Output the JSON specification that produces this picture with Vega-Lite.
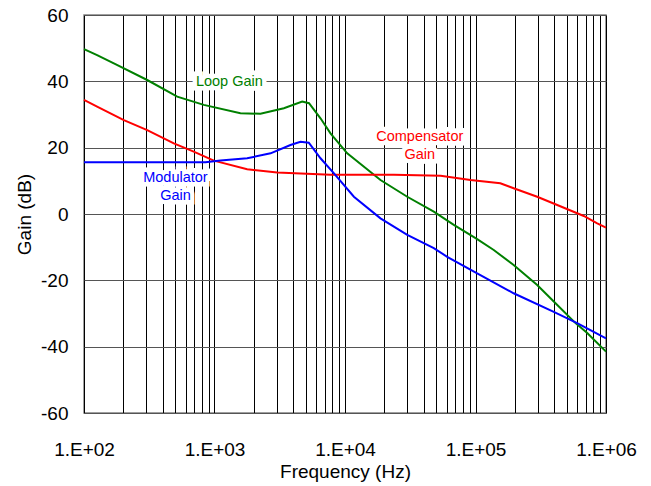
{
  "$schema": "https://vega.github.io/schema/vega-lite/v6.json",
  "width": 522,
  "height": 398,
  "autosize": "none",
  "padding": {"left": 84, "top": 15, "right": 45, "bottom": 73},
  "config": {
    "font": "Liberation Sans",
    "view": {"stroke": "#808080", "strokeWidth": 1.5},
    "axis": {"domain": false, "ticks": false}
  },
  "datasets": {
    "curves": [
      {"series": "Loop Gain", "f": 100, "g": 49.7},
      {"series": "Loop Gain", "f": 126, "g": 47.9},
      {"series": "Loop Gain", "f": 174, "g": 45.2},
      {"series": "Loop Gain", "f": 305, "g": 40.4},
      {"series": "Loop Gain", "f": 518, "g": 35.4},
      {"series": "Loop Gain", "f": 828, "g": 32.9},
      {"series": "Loop Gain", "f": 1580, "g": 30.4},
      {"series": "Loop Gain", "f": 2250, "g": 30.2},
      {"series": "Loop Gain", "f": 3400, "g": 31.9},
      {"series": "Loop Gain", "f": 4700, "g": 33.9},
      {"series": "Loop Gain", "f": 5300, "g": 33.4},
      {"series": "Loop Gain", "f": 6490, "g": 28.85},
      {"series": "Loop Gain", "f": 7740, "g": 24.3},
      {"series": "Loop Gain", "f": 10400, "g": 18.3},
      {"series": "Loop Gain", "f": 18700, "g": 10.25},
      {"series": "Loop Gain", "f": 30000, "g": 5.2},
      {"series": "Loop Gain", "f": 47900, "g": 0.7},
      {"series": "Loop Gain", "f": 68200, "g": -3.3},
      {"series": "Loop Gain", "f": 103000, "g": -7.6},
      {"series": "Loop Gain", "f": 138000, "g": -10.85},
      {"series": "Loop Gain", "f": 196000, "g": -15.4},
      {"series": "Loop Gain", "f": 297000, "g": -21.4},
      {"series": "Loop Gain", "f": 398000, "g": -26.4},
      {"series": "Loop Gain", "f": 584000, "g": -32.9},
      {"series": "Loop Gain", "f": 718000, "g": -35.9},
      {"series": "Loop Gain", "f": 1000000, "g": -41.5},
      {"series": "Compensator Gain", "f": 100, "g": 34.4},
      {"series": "Compensator Gain", "f": 126, "g": 32.4},
      {"series": "Compensator Gain", "f": 202, "g": 28.3},
      {"series": "Compensator Gain", "f": 305, "g": 25.3},
      {"series": "Compensator Gain", "f": 488, "g": 21.3},
      {"series": "Compensator Gain", "f": 693, "g": 18.8},
      {"series": "Compensator Gain", "f": 988, "g": 16.1},
      {"series": "Compensator Gain", "f": 1780, "g": 13.5},
      {"series": "Compensator Gain", "f": 3020, "g": 12.5},
      {"series": "Compensator Gain", "f": 7740, "g": 11.8},
      {"series": "Compensator Gain", "f": 23700, "g": 11.8},
      {"series": "Compensator Gain", "f": 54000, "g": 11.5},
      {"series": "Compensator Gain", "f": 91600, "g": 10.25},
      {"series": "Compensator Gain", "f": 155000, "g": 9.25},
      {"series": "Compensator Gain", "f": 196000, "g": 7.75},
      {"series": "Compensator Gain", "f": 297000, "g": 5.2},
      {"series": "Compensator Gain", "f": 423000, "g": 2.7},
      {"series": "Compensator Gain", "f": 676000, "g": -0.6},
      {"series": "Compensator Gain", "f": 857000, "g": -2.8},
      {"series": "Compensator Gain", "f": 1000000, "g": -4.1},
      {"series": "Modulator Gain", "f": 100, "g": 15.6},
      {"series": "Modulator Gain", "f": 853, "g": 15.6},
      {"series": "Modulator Gain", "f": 1110, "g": 16.1},
      {"series": "Modulator Gain", "f": 1780, "g": 16.8},
      {"series": "Modulator Gain", "f": 2690, "g": 18.3},
      {"series": "Modulator Gain", "f": 3820, "g": 20.8},
      {"series": "Modulator Gain", "f": 4560, "g": 21.8},
      {"series": "Modulator Gain", "f": 5280, "g": 21.5},
      {"series": "Modulator Gain", "f": 6490, "g": 16.8},
      {"series": "Modulator Gain", "f": 8200, "g": 12.3},
      {"series": "Modulator Gain", "f": 11700, "g": 5.2},
      {"series": "Modulator Gain", "f": 18700, "g": -1.3},
      {"series": "Modulator Gain", "f": 30000, "g": -6.3},
      {"series": "Modulator Gain", "f": 47900, "g": -10.3},
      {"series": "Modulator Gain", "f": 60700, "g": -12.9},
      {"series": "Modulator Gain", "f": 103000, "g": -17.9},
      {"series": "Modulator Gain", "f": 196000, "g": -23.9},
      {"series": "Modulator Gain", "f": 398000, "g": -29.5},
      {"series": "Modulator Gain", "f": 601000, "g": -32.9},
      {"series": "Modulator Gain", "f": 1000000, "g": -37.5}
    ],
    "labels": [
      {"series": "Loop Gain", "f": 1300, "g": 39.7, "text": ["Loop Gain"]},
      {"series": "Modulator Gain", "f": 502, "g": 10.9, "text": ["Modulator", "Gain"]},
      {"series": "Compensator Gain", "f": 37400, "g": 23.3, "text": ["Compensator", "Gain"]}
    ]
  },
  "layer": [
    {
      "data": {"name": "curves"},
      "mark": {"type": "line", "strokeWidth": 2},
      "encoding": {
        "x": {
          "field": "f", "type": "quantitative",
          "scale": {"type": "log", "domain": [100, 1000000], "nice": false},
          "axis": {
            "title": "Frequency (Hz)",
            "titleFontSize": 19, "titleFontWeight": "normal", "titleColor": "#000",
            "titlePadding": 3,
            "labelFontSize": 19, "labelColor": "#000", "labelPadding": 27,
            "labelOverlap": false, "labelFlush": false,
            "grid": true, "gridColor": "#000", "gridOpacity": 1, "gridWidth": 1,
            "values": [100,200,300,400,500,600,700,800,900,1000,2000,3000,4000,5000,6000,7000,8000,9000,10000,20000,30000,40000,50000,60000,70000,80000,90000,100000,200000,300000,400000,500000,600000,700000,800000,900000,1000000],
            "labelExpr": "abs(log(datum.value)/LN10 - round(log(datum.value)/LN10)) < 0.000001 ? '1.E+0' + round(log(datum.value)/LN10) : ''"
          }
        },
        "y": {
          "field": "g", "type": "quantitative",
          "scale": {"domain": [-60, 60], "nice": false},
          "axis": {
            "title": "Gain (dB)",
            "titleFontSize": 19, "titleFontWeight": "normal", "titleColor": "#000",
            "titlePadding": 6,
            "labelFontSize": 19, "labelColor": "#000", "labelPadding": 16,
            "labelExpr": "'' + datum.value",
            "values": [-60, -40, -20, 0, 20, 40, 60],
            "grid": true, "gridColor": "#555", "gridOpacity": 1, "gridWidth": 1.2
          }
        },
        "color": {
          "field": "series", "type": "nominal",
          "scale": {"domain": ["Loop Gain", "Compensator Gain", "Modulator Gain"], "range": ["#008000", "#ff0000", "#0000ff"]},
          "legend": null
        }
      }
    },
    {
      "data": {"name": "labels"},
      "mark": {"type": "text", "fontSize": 14.5, "lineHeight": 18, "align": "center", "baseline": "middle", "fill": "white", "stroke": "white", "strokeWidth": 9, "strokeJoin": "miter"},
      "encoding": {
        "x": {"field": "f", "type": "quantitative", "scale": {"type": "log"}},
        "y": {"field": "g", "type": "quantitative"},
        "text": {"field": "text"}
      }
    },
    {
      "data": {"name": "labels"},
      "mark": {"type": "text", "fontSize": 14.5, "lineHeight": 18, "align": "center", "baseline": "middle"},
      "encoding": {
        "x": {"field": "f", "type": "quantitative", "scale": {"type": "log"}},
        "y": {"field": "g", "type": "quantitative"},
        "text": {"field": "text"},
        "color": {"field": "series", "type": "nominal", "legend": null}
      }
    }
  ]
}
